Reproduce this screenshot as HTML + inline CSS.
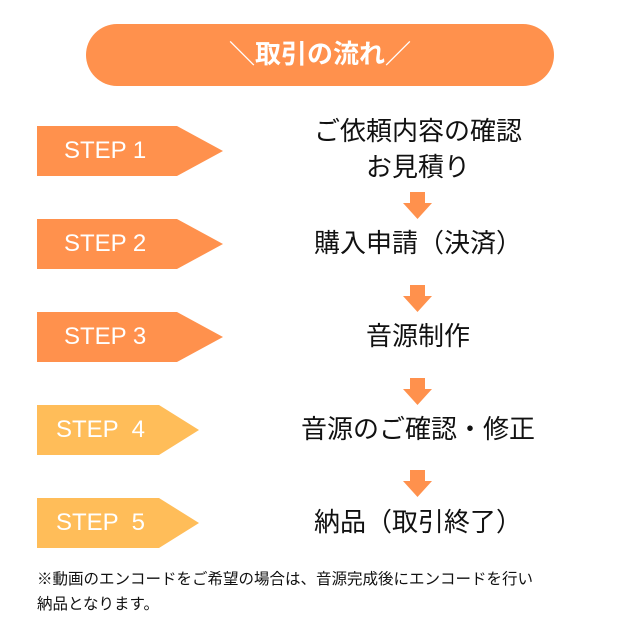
<!DOCTYPE html>
<html><head><meta charset="utf-8"><style>
body{margin:0;background:#fff;}
.wrap{position:relative;width:640px;height:640px;overflow:hidden;font-family:"Liberation Sans","Noto Sans CJK JP",sans-serif;}
.t{position:absolute;left:268px;width:300px;text-align:center;font-size:26px;color:#111;white-space:nowrap;}
.s{position:absolute;left:64px;font-size:24px;color:#fff;line-height:50px;}
</style></head><body><div class="wrap">
<svg width="640" height="640" style="position:absolute;left:0;top:0">
<rect x="86" y="24" width="468" height="62" rx="31" fill="#FF914D"/>
<g fill="#FF914D">
<polygon points="37,126 177,126 223,151 177,176 37,176"/>
<polygon points="37,219 177,219 223,244 177,269 37,269"/>
<polygon points="37,312 177,312 223,337 177,362 37,362"/>
</g>
<g fill="#FFBD59">
<polygon points="37,405 159,405 199,430 159,455 37,455"/>
<polygon points="37,498 159,498 199,523 159,548 37,548"/>
</g>
<g fill="#FF914D">
<polygon points="410,192 425,192 425,203 432,203 417.5,219 403,203 410,203"/>
<polygon points="410,285 425,285 425,296 432,296 417.5,312 403,296 410,296"/>
<polygon points="410,378 425,378 425,389 432,389 417.5,405 403,389 410,389"/>
<polygon points="410,470 425,470 425,481 432,481 417.5,497 403,481 410,481"/>
</g>
</svg>
<div style="position:absolute;left:86px;top:24px;width:468px;line-height:60px;text-align:center;color:#fff;font-size:26px;font-weight:bold;">＼取引の流れ／</div>
<div class="s" style="top:126px">STEP 1</div>
<div class="s" style="top:219px">STEP 2</div>
<div class="s" style="top:312px">STEP 3</div>
<div class="s" style="top:405px;left:56px">STEP &nbsp;4</div>
<div class="s" style="top:498px;left:56px">STEP &nbsp;5</div>
<div class="t" style="top:113px;line-height:36px">ご依頼内容の確認<br>お見積り</div>
<div class="t" style="top:227px;line-height:32px">購入申請（決済）</div>
<div class="t" style="top:320px;line-height:32px">音源制作</div>
<div class="t" style="top:413px;line-height:32px">音源のご確認・修正</div>
<div class="t" style="top:506px;line-height:32px">納品（取引終了）</div>
<div style="position:absolute;left:37px;top:567px;font-size:15.5px;line-height:25px;color:#111;">※動画のエンコードをご希望の場合は、音源完成後にエンコードを行い<br>納品となります。</div>
</div></body></html>
